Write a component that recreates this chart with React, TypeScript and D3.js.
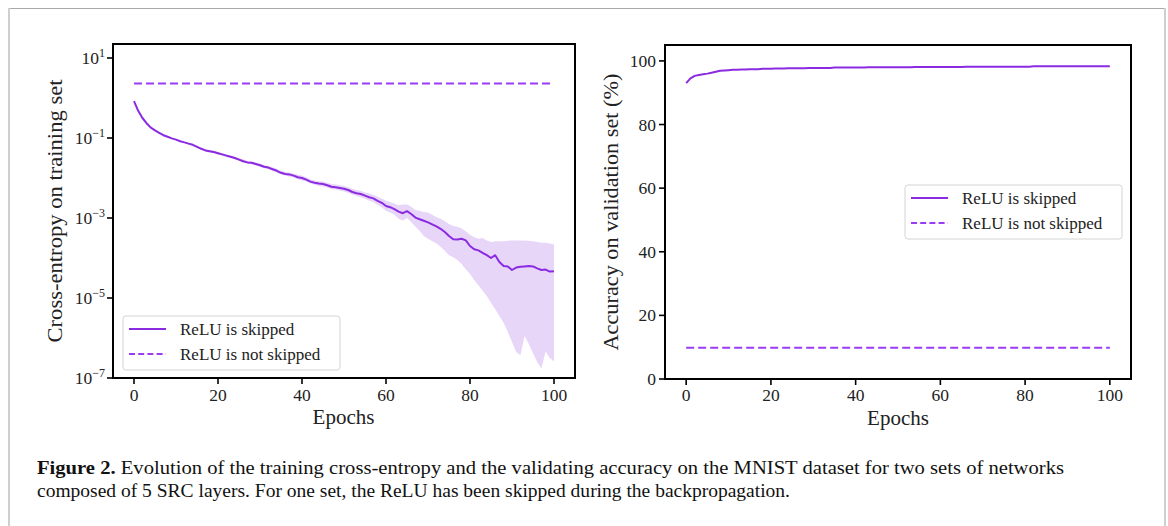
import React from "react";
import * as d3 from "d3";

// ---------- data ----------
const epochs: number[] = d3.range(0, 101);

// log10 of training cross-entropy, ReLU skipped (mean, upper and lower bound of band)
const lossMeanLog10: number[] = [
  -0.08, -0.32, -0.5, -0.63, -0.74, -0.81, -0.87, -0.93, -0.97, -1.01,
  -1.04, -1.08, -1.11, -1.14, -1.17, -1.22, -1.27, -1.31, -1.33, -1.35,
  -1.38, -1.41, -1.44, -1.47, -1.5, -1.54, -1.58, -1.61, -1.62, -1.65,
  -1.68, -1.72, -1.74, -1.78, -1.82, -1.87, -1.9, -1.91, -1.94, -1.98,
  -2.0, -2.04, -2.09, -2.12, -2.14, -2.15, -2.18, -2.22, -2.23, -2.25,
  -2.27, -2.3, -2.35, -2.38, -2.4, -2.44, -2.48, -2.51, -2.57, -2.62,
  -2.7, -2.73, -2.78, -2.84, -2.88, -2.83, -2.9, -2.99, -3.03, -3.07,
  -3.11, -3.16, -3.21, -3.27, -3.35, -3.45, -3.53, -3.54, -3.52, -3.56,
  -3.7, -3.78, -3.81, -3.87, -3.93, -4.0, -3.93, -4.1, -4.2, -4.21,
  -4.3, -4.24, -4.22, -4.21, -4.2, -4.21, -4.26, -4.3, -4.29, -4.34,
  -4.33,
];
const lossUpperLog10: number[] = [
  -0.07, -0.31, -0.49, -0.62, -0.73, -0.8, -0.86, -0.92, -0.96, -1.0,
  -1.03, -1.07, -1.1, -1.13, -1.15, -1.19, -1.24, -1.28, -1.3, -1.32,
  -1.35, -1.38, -1.41, -1.44, -1.47, -1.5, -1.54, -1.57, -1.59, -1.61,
  -1.64, -1.68, -1.7, -1.73, -1.77, -1.82, -1.85, -1.86, -1.89, -1.92,
  -1.94, -1.98, -2.03, -2.06, -2.08, -2.09, -2.12, -2.15, -2.16, -2.18,
  -2.2, -2.23, -2.27, -2.3, -2.32, -2.36, -2.39, -2.42, -2.47, -2.51,
  -2.57, -2.6, -2.64, -2.68, -2.66, -2.66, -2.72, -2.8, -2.82, -2.85,
  -2.86, -2.92, -2.98, -3.02, -3.08, -3.15, -3.2, -3.22, -3.26, -3.33,
  -3.42, -3.48, -3.52, -3.5, -3.56, -3.6, -3.58, -3.58, -3.58, -3.57,
  -3.56, -3.56, -3.56, -3.56, -3.57, -3.58, -3.6, -3.62, -3.62, -3.64,
  -3.66,
];
const lossLowerLog10: number[] = [
  -0.09, -0.33, -0.51, -0.64, -0.75, -0.82, -0.88, -0.94, -0.98, -1.02,
  -1.05, -1.09, -1.12, -1.16, -1.19, -1.24, -1.29, -1.33, -1.36, -1.38,
  -1.41, -1.44, -1.48, -1.5, -1.53, -1.57, -1.61, -1.64, -1.66, -1.69,
  -1.72, -1.76, -1.78, -1.82, -1.86, -1.91, -1.94, -1.96, -1.99, -2.03,
  -2.06, -2.09, -2.14, -2.17, -2.2, -2.21, -2.24, -2.28, -2.29, -2.31,
  -2.34, -2.37, -2.42, -2.45, -2.48, -2.52, -2.57, -2.6, -2.67, -2.73,
  -2.82, -2.86, -2.92, -3.02, -3.06, -3.0, -3.1, -3.22, -3.32, -3.45,
  -3.52, -3.58, -3.64, -3.72, -3.82, -3.93, -3.98, -4.05, -4.15, -4.28,
  -4.4, -4.55, -4.68, -4.82, -4.95, -5.12, -5.28, -5.45, -5.62, -5.85,
  -6.1, -6.35, -6.43, -5.95, -6.15, -6.38, -6.6, -6.76, -6.34, -6.5,
  -6.59,
];

// validation accuracy (%), ReLU skipped
const accSkipped: number[] = [
  93.0, 94.5, 95.3, 95.6, 95.8, 96.0, 96.3, 96.6, 96.9, 97.0,
  97.1, 97.2, 97.2, 97.3, 97.3, 97.4, 97.4, 97.4, 97.5, 97.5,
  97.5, 97.6, 97.6, 97.6, 97.7, 97.7, 97.7, 97.7, 97.7, 97.8,
  97.8, 97.8, 97.8, 97.8, 97.8, 97.9, 97.9, 97.9, 97.9, 97.9,
  97.9, 97.9, 97.9, 98.0, 98.0, 98.0, 98.0, 98.0, 98.0, 98.0,
  98.0, 98.0, 98.0, 98.0, 98.1, 98.1, 98.1, 98.1, 98.1, 98.1,
  98.1, 98.1, 98.1, 98.1, 98.1, 98.1, 98.2, 98.2, 98.2, 98.2,
  98.2, 98.2, 98.2, 98.2, 98.2, 98.2, 98.2, 98.2, 98.2, 98.2,
  98.2, 98.2, 98.3, 98.3, 98.3, 98.3, 98.3, 98.3, 98.3, 98.3,
  98.3, 98.3, 98.3, 98.3, 98.3, 98.3, 98.3, 98.3, 98.3, 98.3,
  98.3,
];

// ReLU not skipped (flat)
const notSkippedEpochs: number[] = [0, 25, 50, 75, 100];
const lossNotSkipped: number[] = [2.303, 2.303, 2.303, 2.303, 2.303];
const accNotSkipped: number[] = [9.8, 9.8, 9.8, 9.8, 9.8];

const xTicks: number[] = [0, 20, 40, 60, 80, 100];
const lossTickExps: number[] = [1, -1, -3, -5, -7];
const accTicks: number[] = [0, 20, 40, 60, 80, 100];

const legendLabels: string[] = ["ReLU is skipped", "ReLU is not skipped"];

const captionBold = "Figure 2.";
const captionLine1 =
  " Evolution of the training cross-entropy and the validating accuracy on the MNIST dataset for two sets of networks";
const captionLine2 =
  "composed of 5 SRC layers. For one set, the ReLU has been skipped during the backpropagation.";

// ---------- style ----------
const SOLID = "#8a2be2";
const DASHED = "#9b3cf2";
const BAND = "#e8d6f9";
const FONT = "'Liberation Serif', 'DejaVu Serif', serif";

function Legend({ x, y }: { x: number; y: number }) {
  return (
    <g transform={`translate(${x},${y})`}>
      <rect x={0} y={0} width={217} height={54} rx={3} fill="white" fillOpacity={0.85} stroke="#d4d4d4" strokeWidth={1} />
      <line x1={6} x2={43} y1={13} y2={13} stroke={SOLID} strokeWidth={2} />
      <line x1={6} x2={43} y1={38} y2={38} stroke={DASHED} strokeWidth={2} strokeDasharray="6,3.2" />
      <text x={57} y={18.5} fontSize={17} fontFamily={FONT} fill="#222">{legendLabels[0]}</text>
      <text x={57} y={43.5} fontSize={17} fontFamily={FONT} fill="#222">{legendLabels[1]}</text>
    </g>
  );
}

export default function App() {
  // left axes
  const L = { x0: 113, x1: 575, y0: 44, y1: 378 };
  const xL = d3.scaleLinear().domain([-5, 105]).range([L.x0, L.x1]);
  const yL = d3.scaleLog().domain([1e-7, Math.pow(10, 1.35)]).range([L.y1, L.y0]);

  // right axes
  const R = { x0: 665, x1: 1131, y0: 45, y1: 379 };
  const xR = d3.scaleLinear().domain([-5, 105]).range([R.x0, R.x1]);
  const yR = d3.scaleLinear().domain([0, 105]).range([R.y1, R.y0]);

  const band = d3
    .area<number>()
    .x((i) => xL(epochs[i]))
    .y0((i) => yL(Math.pow(10, lossLowerLog10[i])))
    .y1((i) => yL(Math.pow(10, lossUpperLog10[i])));
  const idx = epochs.map((_, i) => i);
  const lossLine = d3
    .line<number>()
    .x((i) => xL(epochs[i]))
    .y((i) => yL(Math.pow(10, lossMeanLog10[i])));
  const lossFlat = d3
    .line<number>()
    .x((i) => xL(notSkippedEpochs[i]))
    .y((i) => yL(lossNotSkipped[i]));
  const accLine = d3
    .line<number>()
    .x((i) => xR(epochs[i]))
    .y((i) => yR(accSkipped[i]));
  const accFlat = d3
    .line<number>()
    .x((i) => xR(notSkippedEpochs[i]))
    .y((i) => yR(accNotSkipped[i]));
  const flatIdx = notSkippedEpochs.map((_, i) => i);

  return (
    <svg
      width={1168}
      height={526}
      style={{ position: "absolute", left: 0, top: 0, background: "white" }}
      fontFamily={FONT}
    >
      <rect x={0} y={0} width={1168} height={526} fill="white" />
      {/* page frame */}
      <line x1={8} x2={1166} y1={8.5} y2={8.5} stroke="#a8a8a8" strokeWidth={1} />
      <line x1={9} x2={9} y1={8} y2={526} stroke="#cfcfcf" strokeWidth={2} />
      <line x1={1165} x2={1165} y1={8} y2={526} stroke="#cfcfcf" strokeWidth={2} />

      {/* ---------- left panel ---------- */}
      <defs>
        <clipPath id="clipL">
          <rect x={L.x0} y={L.y0} width={L.x1 - L.x0} height={L.y1 - L.y0} />
        </clipPath>
        <clipPath id="clipR">
          <rect x={R.x0} y={R.y0} width={R.x1 - R.x0} height={R.y1 - R.y0} />
        </clipPath>
      </defs>
      <g clipPath="url(#clipL)">
        <path d={band(idx) || ""} fill={BAND} stroke="none" />
        <path d={lossLine(idx) || ""} fill="none" stroke={SOLID} strokeWidth={2} strokeLinejoin="round" />
        <path d={lossFlat(flatIdx) || ""} fill="none" stroke={DASHED} strokeWidth={2} strokeDasharray="8,4" />
      </g>
      <rect x={L.x0} y={L.y0} width={L.x1 - L.x0} height={L.y1 - L.y0} fill="none" stroke="black" strokeWidth={2} />
      {xTicks.map((t) => (
        <g key={"lx" + t}>
          <line x1={xL(t)} x2={xL(t)} y1={L.y1} y2={L.y1 + 6} stroke="black" strokeWidth={1.6} />
          <text x={xL(t)} y={L.y1 + 23} textAnchor="middle" fontSize={17.5} fill="#222">{t}</text>
        </g>
      ))}
      {lossTickExps.map((e) => {
        const y = yL(Math.pow(10, e));
        const exp = e < 0 ? "\u2212" + Math.abs(e) : String(e);
        return (
          <g key={"ly" + e}>
            <line x1={L.x0 - 6} x2={L.x0} y1={y} y2={y} stroke="black" strokeWidth={1.6} />
            <text x={L.x0 - 8} y={y + 6} textAnchor="end" fontSize={17.5} fill="#222">
              10<tspan fontSize={12} dy={-7.5}>{exp}</tspan>
            </text>
          </g>
        );
      })}
      <text x={(L.x0 + L.x1) / 2 - 0.5} y={424} textAnchor="middle" fontSize={21} fill="#222">Epochs</text>
      <text
        transform={`translate(62,${(L.y0 + L.y1) / 2}) rotate(-90)`}
        textAnchor="middle"
        fontSize={21}
        fill="#222"
        textLength={263}
        lengthAdjust="spacingAndGlyphs"
      >
        Cross-entropy on training set
      </text>
      <Legend x={123} y={316} />

      {/* ---------- right panel ---------- */}
      <g clipPath="url(#clipR)">
        <path d={accLine(idx) || ""} fill="none" stroke={SOLID} strokeWidth={2} strokeLinejoin="round" />
        <path d={accFlat(flatIdx) || ""} fill="none" stroke={DASHED} strokeWidth={2} strokeDasharray="8,4" />
      </g>
      <rect x={R.x0} y={R.y0} width={R.x1 - R.x0} height={R.y1 - R.y0} fill="none" stroke="black" strokeWidth={2} />
      {xTicks.map((t) => (
        <g key={"rx" + t}>
          <line x1={xR(t)} x2={xR(t)} y1={R.y1} y2={R.y1 + 6} stroke="black" strokeWidth={1.6} />
          <text x={xR(t)} y={R.y1 + 22} textAnchor="middle" fontSize={17.5} fill="#222">{t}</text>
        </g>
      ))}
      {accTicks.map((t) => (
        <g key={"ry" + t}>
          <line x1={R.x0 - 6} x2={R.x0} y1={yR(t)} y2={yR(t)} stroke="black" strokeWidth={1.6} />
          <text x={R.x0 - 9} y={yR(t) + 6} textAnchor="end" fontSize={17.5} fill="#222">{t}</text>
        </g>
      ))}
      <text x={(R.x0 + R.x1) / 2} y={425} textAnchor="middle" fontSize={21} fill="#222">Epochs</text>
      <text
        transform={`translate(618,${(R.y0 + R.y1) / 2}) rotate(-90)`}
        textAnchor="middle"
        fontSize={21}
        fill="#222"
        textLength={277}
        lengthAdjust="spacingAndGlyphs"
      >
        Accuracy on validation set (%)
      </text>
      <Legend x={905} y={185} />

      {/* ---------- caption ---------- */}
      <text x={37} y={474} fontSize={18.5} fill="#111" textLength={1027} lengthAdjust="spacingAndGlyphs">
        <tspan fontWeight="bold">{captionBold}</tspan>
        {captionLine1}
      </text>
      <text x={37} y={497} fontSize={18.5} fill="#111" textLength={753} lengthAdjust="spacingAndGlyphs">
        {captionLine2}
      </text>
    </svg>
  );
}
